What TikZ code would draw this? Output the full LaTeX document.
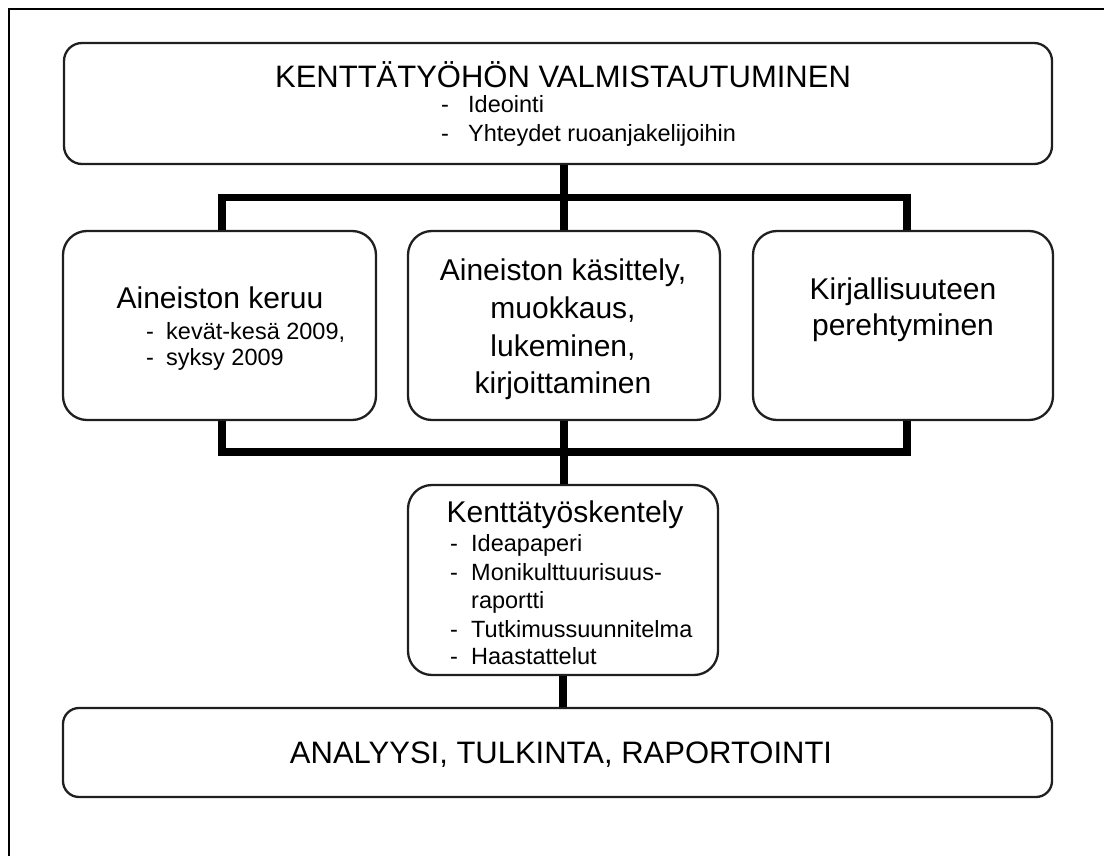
\documentclass[tikz,border=0pt]{standalone}
\usepackage{fontspec}
\setmainfont{Liberation Sans}
\begin{document}
\begin{tikzpicture}[x=1pt,y=-1pt,
 box/.style={draw=black!88, line width=2.3pt, fill=white, inner sep=0pt},
 bus/.style={line width=7.5pt, line join=miter},
 frameline/.style={line width=2pt},
 head/.style={font=\fontsize{31}{37}\selectfont, inner sep=0pt, anchor=base},
 big/.style={font=\fontsize{30}{37}\selectfont, inner sep=0pt, anchor=base},
 small/.style={font=\fontsize{23.5}{28}\selectfont, inner sep=0pt, anchor=base west}]
\path[use as bounding box] (0,0) rectangle (1104,856);
\draw[frameline] (9,880) -- (9,9) -- (1130,9);

% boxes
\node[box, rounded corners=18pt, minimum width=988pt, minimum height=121pt] (prep) at (558,103.5) {};
\node[box, rounded corners=24pt, minimum width=313pt, minimum height=189pt] (coll) at (219.5,325.5) {};
\node[box, rounded corners=24pt, minimum width=312pt, minimum height=189pt] (proc) at (564,325.5) {};
\node[box, rounded corners=24pt, minimum width=300pt, minimum height=189pt] (lit) at (903,325.5) {};
\node[box, rounded corners=24pt, minimum width=310pt, minimum height=190pt] (field) at (563,580) {};
\node[box, rounded corners=16pt, minimum width=989pt, minimum height=89pt] (anal) at (557.5,752.5) {};

% connectors
\coordinate (bl) at (222,197.5);
\coordinate (br) at (907,197.5);
\coordinate (bl2) at (222,452);
\coordinate (br2) at (907,452);
\draw[bus] (prep.south -| proc.north) -- (proc.north);
\draw[bus] (coll.north -| bl) -- (bl) -- (br) -- (lit.north -| br);
\draw[bus] (coll.south -| bl2) -- (bl2) -- (br2) -- (lit.south -| br2);
\draw[bus] (proc.south) -- (field.north -| proc.south);
\draw[bus] (field.south) -- (anal.north -| field.south);

% texts
\node[head] (t1) at (563,88) {KENTTÄTYÖHÖN VALMISTAUTUMINEN};
\node[small] (t1d1) at (441,113) {-};
\node[small] (t1a) at (468,113) {Ideointi};
\node[small] (t1d2) at (441,142) {-};
\node[small] (t1b) at (468,142) {Yhteydet ruoanjakelijoihin};

\node[big] (t2) at (220,308) {Aineiston keruu};
\node[small] (t2d1) at (146,339) {-};
\node[small] (t2a) at (166,339) {kevät-kesä 2009,};
\node[small] (t2d2) at (146,365) {-};
\node[small] (t2b) at (166,365) {syksy 2009};

\node[big] (t3a) at (563,280) {Aineiston käsittely,};
\node[big] (t3b) at (563,318) {muokkaus,};
\node[big] (t3c) at (563,356) {lukeminen,};
\node[big] (t3d) at (563,393) {kirjoittaminen};

\node[big] (t4a) at (903,299) {Kirjallisuuteen};
\node[big] (t4b) at (903,335) {perehtyminen};

\node[big] (t5) at (565,522) {Kenttätyöskentely};
\node[small] (t5d1) at (450,551) {-};
\node[small] (t5a) at (471,551) {Ideapaperi};
\node[small] (t5d2) at (450,580) {-};
\node[small] (t5b) at (471,580) {Monikulttuurisuus-};
\node[small] (t5c) at (471,608) {raportti};
\node[small] (t5d3) at (450,637) {-};
\node[small] (t5d) at (471,637) {Tutkimussuunnitelma};
\node[small] (t5d4) at (450,664) {-};
\node[small] (t5e) at (471,664) {Haastattelut};

\node[head] (t6) at (561,763) {ANALYYSI, TULKINTA, RAPORTOINTI};
\end{tikzpicture}
\end{document}
